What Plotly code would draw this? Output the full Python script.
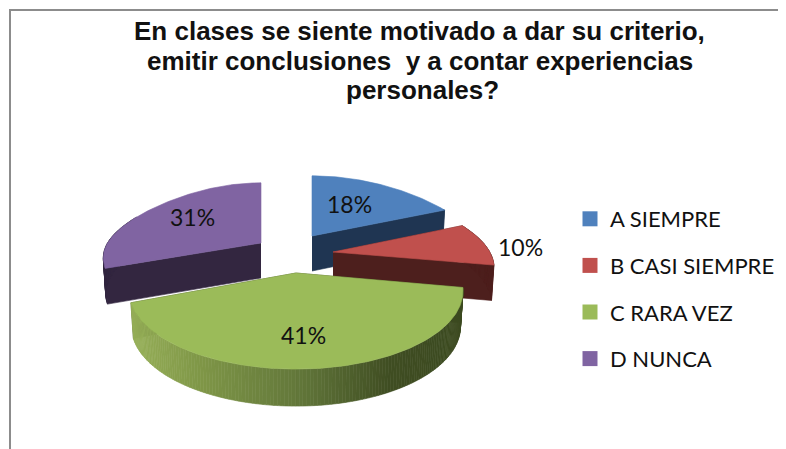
import math
import plotly.graph_objects as go

categories = ["A SIEMPRE", "B CASI SIEMPRE", "C RARA VEZ", "D NUNCA"]
values = [18, 10, 41, 31]
title_lines = ["En clases se siente motivado a dar su criterio,",
               "emitir conclusiones  y a contar experiencias",
               "personales?"]

top_colors = ["#4f81bd", "#c0504d", "#9bbb59", "#8064a2"]
wall_colors = ["#1f3552", "#4d1f1d", "#3f4d22", "#332640"]
# Exploded-slice apex on the canvas, per-slice shape correction, and label anchor for each slice
apex = [(312, 236), (333, 252), (296, 273), (261, 243)]
shape_x = [0.975, 0.95, 0.985, 0.93]
shape_y = [0.88, 0.90, 1.0, 0.83]
label_pos = [(349, 204), (520, 247), (303, 335), (192, 217)]
title_pos = [(419, 31), (420, 61), (422, 90)]
draw_order = [0, 3, 1, 2]

# Projection of a tilted disc with mild perspective
R, A, K = 165.0, 74.0, 0.23


def rim(angle_deg, slice_i):
    th = math.radians(angle_deg)
    u, v = math.sin(th), math.cos(th)
    d = 1 + K * v
    sy = shape_y[slice_i] + (1 - shape_y[slice_i]) * v * v
    return apex[slice_i][0] + shape_x[slice_i] * R * u / d, apex[slice_i][1] - sy * A * v / d, v


def lower(x, y, v, slice_i):
    depth = 35 - 2 * v
    return apex[slice_i][0] + (x - apex[slice_i][0]) * 0.985, y + depth


def arc(a0, a1, n_per_deg=1.0):
    n = max(2, int(abs(a1 - a0) * n_per_deg))
    return [a0 + (a1 - a0) * i / n for i in range(n + 1)]


def mix(stops, t):
    for (t0, c0), (t1, c1) in zip(stops, stops[1:]):
        if t <= t1:
            f = max(0.0, (t - t0) / (t1 - t0))
            rgb = [round(int(c0[i:i + 2], 16) * (1 - f) + int(c1[i:i + 2], 16) * f) for i in (1, 3, 5)]
            return "#%02x%02x%02x" % tuple(rgb)
    return stops[-1][1]


green_side = [(0.0, "#96af58"), (0.2, "#7f9647"), (0.5, "#62773a"), (0.78, "#3f4d22"), (1.0, "#3c4a20")]

total = sum(values)
starts = []
acc = 0
for val in values:
    starts.append(acc * 360 / total)
    acc += val
ends = [s + val * 360 / total for s, val in zip(starts, values)]

fig = go.Figure()


def poly(xs, ys, color):
    fig.add_trace(go.Scatter(x=xs, y=ys, mode="lines", fill="toself", fillcolor=color,
                             line=dict(color=color, width=0.6), showlegend=False, hoverinfo="skip"))


for i in draw_order:
    a0, a1 = starts[i], ends[i]
    ax, ay = apex[i]
    # radial front walls
    for edge in (a0, a1):
        x, y, v = rim(edge, i)
        if v < 0.6 and (edge != 0 and edge != 360):
            lx, ly = lower(x, y, v, i)
            poly([ax, x, lx, ax], [ay, y, ly, ay + 35], wall_colors[i])
    # outer rim
    angs = arc(a0, a1)
    front = [a for a in angs if math.cos(math.radians(a)) < 0.45]
    for b0, b1 in zip(front, front[1:]):
        if b1 - b0 > 1.5:
            continue
        x0, y0, v0 = rim(b0, i)
        x1, y1, v1 = rim(b1, i)
        lx0, ly0 = lower(x0, y0, v0, i)
        lx1, ly1 = lower(x1, y1, v1, i)
        if i == 2:
            c = mix(green_side, (x1 - 132) / 330)
        else:
            c = wall_colors[i]
        poly([x0, x1, lx1, lx0, x0], [y0, y1, ly1, ly0, y0], c)
    # top face
    pts = [rim(a, i) for a in angs]
    poly([ax] + [p[0] for p in pts] + [ax], [ay] + [p[1] for p in pts] + [ay], top_colors[i])

for name, col in zip(categories, top_colors):
    fig.add_trace(go.Scatter(x=[None], y=[None], mode="markers", name=name, legendgroup=name,
                             marker=dict(symbol="square", size=15, color=col)))

annotations = [dict(x=p[0], y=p[1], text=f"{val}%", showarrow=False, xref="x", yref="y",
                    font=dict(family="Lato, Carlito, sans-serif", size=23, color="#111111"))
               for p, val in zip(label_pos, values)]
annotations += [dict(x=p[0], y=p[1], text=line, showarrow=False, xref="x", yref="y",
                     font=dict(family="Liberation Sans, Arial, sans-serif", size=26, color="#111111", weight="bold"))
                for p, line in zip(title_pos, title_lines)]

# The page has an 8px body margin; the plot area is sized so canvas coordinates match the window.
fig.update_layout(
    width=778, height=441, margin=dict(l=0, r=0, t=0, b=0),
    paper_bgcolor="white", plot_bgcolor="white",
    xaxis=dict(range=[8, 786], visible=False, fixedrange=True),
    yaxis=dict(range=[449, 8], visible=False, fixedrange=True),
    legend=dict(x=562 / 778, y=1 - 190 / 441, xanchor="left", yanchor="top", tracegroupgap=15,
                font=dict(family="Lato, Carlito, sans-serif", size=22, color="#111111"),
                bgcolor="rgba(0,0,0,0)"),
    annotations=annotations,
    shapes=[
        dict(type="line", xref="x", yref="y", x0=10, x1=10, y0=10, y1=449, line=dict(color="#8c8c8c", width=2)),
        dict(type="line", xref="x", yref="y", x0=9, x1=786, y0=10, y1=10, line=dict(color="#8c8c8c", width=2)),
    ],
)
fig.write_html("out.html")
